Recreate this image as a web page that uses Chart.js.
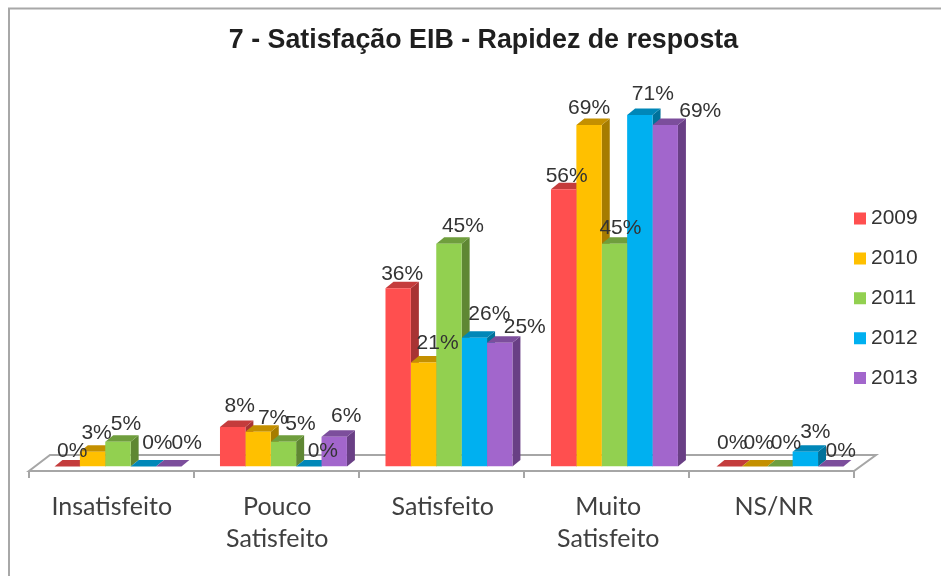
<!DOCTYPE html>
<html lang="pt">
<head>
<meta charset="utf-8">
<style>html,body{margin:0;padding:0;background:#fff}canvas{display:block}</style>
<script src="https://cdn.jsdelivr.net/npm/chart.js@4"></script>
</head>
<body>
<canvas id="c" width="941" height="576"></canvas>
<script>
const titleText = '7 - Satisfação EIB - Rapidez de resposta';
const categories = ['Insatisfeito', ['Pouco', 'Satisfeito'], 'Satisfeito', ['Muito', 'Satisfeito'], 'NS/NR'];
const years = ['2009', '2010', '2011', '2012', '2013'];
const s2009 = [0, 8, 36, 56, 0];
const s2010 = [3, 7, 21, 69, 0];
const s2011 = [5, 5, 45, 45, 0];
const s2012 = [0, 0, 26, 71, 3];
const s2013 = [0, 6, 25, 69, 0];
const series = [s2009, s2010, s2011, s2012, s2013];
const frontColors = ['#FF4F4F', '#FFC000', '#92D050', '#00B0F0', '#A266CC'];
const topColors = ['#C43C3C', '#C49000', '#6F9E3D', '#0087B8', '#7C4E9C'];
const sideColors = ['#A83333', '#A67C00', '#5F8733', '#00729B', '#693F85'];
const nudgeX = [[5, 7, 4, 3, 3], [4, 15, 14, 0, 4], [8, 17, 14, 6, 6], [14, 14, 15, 13, 10], [18, 12, 25, 35, 10]];
const nudgeY = [[-15.5, -21, -14, -13, -23.5], [-18, -14, -19, -17, -23.5], [-18, -18, -18, -16, -23.5], [-23.5, -15.5, -24, -21, -19], [-23.5, -21, -16, -14, -15.5]];
const DX = 8, DY = 6.5, SHIFT = 6.2;

const place = {
  id: 'place',
  afterLayout(chart) {
    const t = chart.titleBlock;
    t.left = 26; t.right = 941;
    const l = chart.legend, p = l.options.labels.padding;
    l.left = 859.5 - p; l.right = 941;
    l.top = 208 - p; l.bottom = 576;
  }
};

const scene = {
  id: 'scene',
  beforeDatasetsDraw(chart) {
    const ctx = chart.ctx, x = chart.scales.x;
    ctx.save();
    ctx.strokeStyle = '#A8A8A8'; ctx.lineWidth = 2;
    ctx.beginPath(); ctx.moveTo(941, 8.5); ctx.lineTo(9, 8.5); ctx.lineTo(9, 576); ctx.stroke();
    const fl = x.left - SHIFT, fr = fl + 825;
    ctx.strokeStyle = '#A6A6A6';
    ctx.beginPath();
    ctx.moveTo(fl, 471); ctx.lineTo(fr, 471); ctx.lineTo(fr + 22, 455); ctx.lineTo(fl + 21, 455); ctx.closePath();
    ctx.stroke();
    ctx.beginPath();
    for (let i = 0; i <= categories.length; i++) {
      const tx = fl + i * 165;
      ctx.moveTo(tx, 471); ctx.lineTo(tx, 478);
    }
    ctx.stroke();
    for (let c = 0; c < categories.length; c++) {
      series.forEach((vals, d) => {
        const b = chart.getDatasetMeta(d).data[c];
        const l = b.x - b.width / 2, r = b.x + b.width / 2, t = b.y, base = b.base;
        if (base - t > 0.5) {
          ctx.fillStyle = sideColors[d];
          ctx.beginPath();
          ctx.moveTo(r, t); ctx.lineTo(r + DX, t - DY); ctx.lineTo(r + DX, base - DY); ctx.lineTo(r, base);
          ctx.closePath(); ctx.fill();
        }
        ctx.fillStyle = topColors[d];
        ctx.beginPath();
        ctx.moveTo(l, t); ctx.lineTo(l + DX, t - DY); ctx.lineTo(r + DX, t - DY); ctx.lineTo(r, t);
        ctx.closePath(); ctx.fill();
      });
    }
    ctx.restore();
  },
  afterDatasetsDraw(chart) {
    const ctx = chart.ctx;
    ctx.save();
    ctx.font = '21px "Liberation Sans"';
    ctx.fillStyle = '#333333';
    ctx.textAlign = 'center'; ctx.textBaseline = 'middle';
    series.forEach((vals, d) => {
      chart.getDatasetMeta(d).data.forEach((b, c) => {
        ctx.fillText(vals[c] + '%', b.x + nudgeX[d][c], b.y + nudgeY[d][c]);
      });
    });
    ctx.restore();
  }
};

new Chart(document.getElementById('c'), {
  type: 'bar',
  data: {
    labels: categories,
    datasets: series.map((vals, d) => ({
      label: years[d],
      data: vals,
      backgroundColor: frontColors[d],
      borderWidth: 0,
      categoryPercentage: 0.767,
      barPercentage: 1
    }))
  },
  options: {
    responsive: false,
    animation: false,
    layout: { padding: { left: 35.2, right: 78.3, top: 15.5, bottom: 0 } },
    plugins: {
      tooltip: { enabled: false },
      title: {
        display: true,
        text: titleText,
        color: '#1F1F1F',
        font: { family: '"Liberation Sans"', size: 26.8, weight: 'bold', lineHeight: 1.2 },
        padding: { top: 9, bottom: 13.9 }
      },
      legend: {
        position: 'chartArea',
        align: 'start',
        labels: {
          usePointStyle: true, pointStyle: 'rect',
          boxWidth: 1, boxHeight: 12, padding: 18.9,
          color: '#333333',
          font: { family: '"Liberation Sans"', size: 21 }
        }
      }
    },
    scales: {
      x: {
        grid: { display: false },
        border: { display: false },
        afterFit(s) { s.height = 109.5; },
        ticks: {
          autoSkip: false, maxRotation: 0, minRotation: 0,
          labelOffset: -SHIFT, padding: 16,
          color: '#404040',
          font: { family: 'Lato', size: 25, lineHeight: 1.28 }
        }
      },
      y: { display: false, min: 0, max: 80 }
    }
  },
  plugins: [place, scene]
});
</script>
</body>
</html>
